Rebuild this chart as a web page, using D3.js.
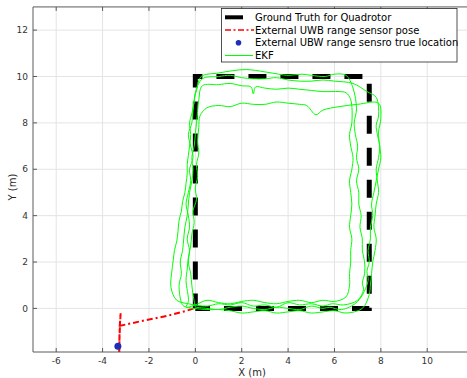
<!DOCTYPE html>
<html><head><meta charset="utf-8">
<script src="https://cdn.jsdelivr.net/npm/d3@7"></script>
<style>body{margin:0;background:#fff;} svg{display:block;font-family:"DejaVu Sans",sans-serif;}</style>
</head><body>
<script>
const xTicks = [-6,-4,-2,0,2,4,6,8,10];
const yTicks = [0,2,4,6,8,10,12];
const xDomain = [-7, 12];
const yDomain = [-1.88, 13];

const truthX = [0, 0, 7.5, 7.5, 0];
const truthY = [0, 10, 10, 0, 0];

const uwbTrueX = [-3.34];
const uwbTrueY = [-1.63];

const uwbPath = [[-3.28,-2.0],[-3.27,-1.2],[-3.26,-0.75],[-3.22,-0.2],[-3.25,-0.7],[-3.29,-2.0],[-3.27,-1.1],[-3.25,-0.75],[-2.2,-0.52],[-1.2,-0.32],[-0.45,-0.12],[-0.05,0.0]];

const ekfLapA = [[0.0,0.05],[-0.1,0.6],[-0.15,1.0],[-0.2,1.5],[-0.3,2.0],[-0.25,2.5],[-0.35,3.0],[-0.25,3.5],[-0.3,4.0],[-0.4,4.5],[-0.3,5.0],[-0.2,5.5],[-0.25,6.0],[-0.1,6.5],[-0.2,7.0],[-0.3,7.5],[-0.15,8.0],[-0.1,8.5],[-0.05,9.0],[0.05,9.4],[0.25,10.0],[1.0,10.15],[1.6,10.25],[2.2,10.3],[3.0,10.2],[3.6,10.1],[4.0,10.05],[4.6,10.1],[5.0,10.05],[5.6,10.0],[6.0,10.1],[6.5,10.05],[6.8,9.5],[6.95,8.6],[6.85,8.0],[6.9,7.5],[7.0,7.0],[6.95,6.5],[7.05,6.0],[6.95,5.5],[7.05,5.0],[7.05,4.5],[7.15,4.0],[7.1,3.5],[7.2,3.0],[7.2,2.5],[7.3,2.0],[7.3,1.5],[7.2,1.1],[7.25,0.8],[7.0,0.35],[6.4,0.15],[5.9,0.2],[5.5,0.1],[5.0,0.2],[4.5,0.15],[4.0,0.25],[3.5,0.05],[3.0,0.15],[2.5,0.1],[2.0,0.25],[1.5,0.15],[1.0,0.2],[0.5,0.1],[-0.3,0.2]];
const ekfLapB = [[-0.8,0.35],[-1.05,0.9],[-1.0,1.7],[-0.95,2.1],[-0.9,2.5],[-0.8,2.9],[-0.75,3.3],[-0.7,3.8],[-0.6,4.2],[-0.55,4.6],[-0.45,5.0],[-0.4,5.4],[-0.35,5.8],[-0.35,6.2],[-0.3,6.6],[-0.25,7.0],[-0.2,7.5],[-0.25,8.0],[-0.15,8.4],[-0.05,8.9],[0.0,9.3],[0.3,9.9],[1.0,10.0],[1.5,10.05],[2.0,9.95],[2.5,9.9],[3.0,9.9],[3.5,9.95],[4.0,9.85],[4.5,9.8],[5.0,9.8],[5.5,9.85],[6.0,9.8],[6.8,9.7],[7.4,9.35],[7.8,9.1],[7.9,8.3],[7.8,7.9],[7.85,7.5],[7.95,7.0],[7.9,6.5],[7.8,6.0],[7.85,5.5],[7.9,5.0],[7.8,4.5],[7.75,4.0],[7.7,3.5],[7.8,3.0],[7.75,2.5],[7.65,2.0],[7.6,1.5],[7.55,1.0],[7.5,0.6],[7.2,0.0],[6.5,-0.2],[6.0,-0.1],[5.5,-0.15],[5.0,-0.2],[4.5,-0.1],[4.0,-0.15],[3.5,-0.2],[3.0,-0.1],[2.5,-0.15],[2.0,-0.2],[1.5,-0.1],[1.0,-0.05],[0.5,-0.05],[-0.5,0.1]];
const ekfLapC = [[-0.6,0.25],[-0.7,1.0],[-0.6,1.5],[-0.65,2.0],[-0.55,2.5],[-0.5,3.0],[-0.45,3.5],[-0.35,4.0],[-0.3,4.5],[-0.25,5.0],[-0.15,5.5],[-0.1,6.0],[-0.15,6.5],[-0.05,7.0],[0.0,7.5],[0.05,8.0],[0.1,8.5],[0.15,9.0],[0.3,9.6],[1.0,9.65],[1.5,9.7],[2.0,9.6],[2.4,9.55],[2.5,9.25],[2.6,9.55],[3.0,9.5],[3.5,9.45],[4.0,9.5],[4.5,9.45],[5.0,9.4],[5.5,9.35],[6.2,9.35],[6.5,9.3],[6.7,9.0],[6.75,8.0],[6.65,7.5],[6.7,7.0],[6.8,6.5],[6.75,6.0],[6.65,5.5],[6.7,5.0],[6.75,4.5],[6.7,4.0],[6.65,3.5],[6.75,3.0],[6.7,2.5],[6.7,2.0],[6.65,1.5],[6.65,1.0],[6.5,0.5],[6.0,0.3],[5.5,0.35],[5.0,0.25],[4.5,0.35],[4.0,0.3],[3.5,0.2],[3.0,0.25],[2.5,0.35],[2.0,0.3],[1.5,0.2],[1.0,0.25],[0.5,0.35],[0.0,0.15],[-0.4,0.05]];
const ekfLapD = [[-0.3,0.3],[-0.4,1.2],[-0.35,1.7],[-0.3,2.2],[-0.2,2.7],[-0.15,3.2],[-0.05,3.7],[-0.1,4.2],[0.05,4.7],[0.0,5.2],[0.1,5.7],[0.05,6.2],[0.15,6.7],[0.1,7.2],[0.15,7.8],[0.2,8.3],[0.5,8.65],[1.0,8.75],[1.5,8.7],[2.0,8.85],[2.5,8.8],[3.0,8.8],[3.5,8.9],[4.0,8.85],[4.5,8.8],[4.8,8.75],[5.2,8.35],[5.5,8.55],[6.2,8.7],[7.0,8.8],[7.9,8.85],[8.0,8.2],[7.9,7.6],[7.95,7.0],[8.0,6.5],[7.9,6.0],[7.8,5.5],[7.7,5.0],[7.6,4.5],[7.65,4.0],[7.55,3.5],[7.55,3.0],[7.45,2.5],[7.5,2.0],[7.4,1.6],[7.45,1.2],[7.0,0.3],[6.3,-0.05],[5.8,0.05],[5.5,0.0],[5.0,0.1],[4.5,-0.05],[4.0,0.0],[3.5,0.05],[3.0,-0.05],[2.5,0.0],[2.0,0.1],[1.5,0.05],[1.0,-0.05],[0.5,0.0],[0.0,0.05]];

const legendLabels = ["Ground Truth for Quadrotor","External UWB range sensor pose","External UBW range sensro true location","EKF"];

const W = 467, H = 378;
const left = 33, bottom = 352, unit = 23.19;
const x = d3.scaleLinear().domain(xDomain).range([left, left + (xDomain[1]-xDomain[0])*unit]);
const y = d3.scaleLinear().domain(yDomain).range([bottom, bottom - (yDomain[1]-yDomain[0])*unit]);
const topY = y(yDomain[1]), rightX = x(xDomain[1]);

const svg = d3.select("body").append("svg").attr("width", W).attr("height", H);
svg.append("defs").append("clipPath").attr("id","clip").append("rect")
  .attr("x", left).attr("y", topY).attr("width", rightX-left).attr("height", bottom-topY);

// grid
const g = svg.append("g");
g.selectAll(".gx").data(xTicks).join("line").attr("x1", d=>x(d)).attr("x2", d=>x(d)).attr("y1", topY).attr("y2", bottom).attr("stroke","#e4e4e4").attr("stroke-width",1);
g.selectAll(".gy").data(yTicks).join("line").attr("y1", d=>y(d)).attr("y2", d=>y(d)).attr("x1", left).attr("x2", rightX).attr("stroke","#e4e4e4").attr("stroke-width",1);

const plot = svg.append("g").attr("clip-path","url(#clip)");
const line = d3.line().x(d=>x(d[0])).y(d=>y(d[1]));

// ground truth
plot.append("path").attr("d", line(truthX.map((v,i)=>[v,truthY[i]])))
  .attr("fill","none").attr("stroke","#000").attr("stroke-width",5)
  .attr("stroke-dasharray","18,14").attr("stroke-dashoffset",3);

// uwb pose
plot.append("path").attr("d", line(uwbPath)).attr("fill","none").attr("stroke","#ff0000")
  .attr("stroke-width",2).attr("stroke-dasharray","6,3,2,3");

// true location
plot.selectAll(".dot").data(uwbTrueX).join("circle").attr("cx", d=>x(d)).attr("cy",(d,i)=>y(uwbTrueY[i])).attr("r",3.5).attr("fill","#1f2db8");

// EKF
const curve = d3.line().x(d=>x(d[0])).y(d=>y(d[1])).curve(d3.curveCatmullRom.alpha(0.5));
plot.append("path").attr("d", curve(ekfLapA.concat(ekfLapB, ekfLapC, ekfLapD)))
  .attr("fill","none").attr("stroke","#00ff00").attr("stroke-width",1);

// axes box
const axc = "#5a5a5a";
svg.append("line").attr("x1",left).attr("x2",rightX).attr("y1",bottom).attr("y2",bottom).attr("stroke",axc);
svg.append("line").attr("x1",left).attr("x2",rightX).attr("y1",topY).attr("y2",topY).attr("stroke",axc);
svg.append("line").attr("x1",left).attr("x2",left).attr("y1",topY).attr("y2",bottom).attr("stroke",axc);
// ticks
svg.selectAll(".tx").data(xTicks).join("line").attr("x1",d=>x(d)).attr("x2",d=>x(d)).attr("y1",bottom).attr("y2",bottom-4).attr("stroke",axc);
svg.selectAll(".tx2").data(xTicks).join("line").attr("x1",d=>x(d)).attr("x2",d=>x(d)).attr("y1",topY).attr("y2",topY+4).attr("stroke",axc);
svg.selectAll(".ty").data(yTicks).join("line").attr("y1",d=>y(d)).attr("y2",d=>y(d)).attr("x1",left).attr("x2",left+4).attr("stroke",axc);

svg.selectAll(".xl").data(xTicks).join("text").attr("x",d=>x(d)).attr("y",bottom+11.5).attr("text-anchor","middle")
  .attr("font-size",9).attr("fill","#333").text(d=>d);
svg.selectAll(".yl").data(yTicks).join("text").attr("x",left-5).attr("y",d=>y(d)+3.2).attr("text-anchor","end")
  .attr("font-size",9).attr("fill","#333").text(d=>d);

svg.append("text").attr("x",252).attr("y",375.5).attr("text-anchor","middle").attr("font-size",10).attr("fill","#262626").text("X (m)");
svg.append("text").attr("transform","translate(15.5,187) rotate(-90)").attr("text-anchor","middle").attr("font-size",10).attr("fill","#262626").text("Y (m)");

// legend
const lg = svg.append("g");
lg.append("rect").attr("x",221.5).attr("y",8.5).attr("width",235.5).attr("height",53.5).attr("fill","#fff").attr("stroke","#262626").attr("stroke-width",0.8);
const rows = [17.3, 30, 42.7, 55.5];
lg.append("line").attr("x1",225).attr("x2",253).attr("y1",rows[0]).attr("y2",rows[0]).attr("stroke","#000").attr("stroke-width",4).attr("stroke-dasharray","18,15");
lg.append("line").attr("x1",225).attr("x2",254).attr("y1",rows[1]).attr("y2",rows[1]).attr("stroke","#ff0000").attr("stroke-width",1.6).attr("stroke-dasharray","6,2.5,2,2.5");
lg.append("circle").attr("cx",238.5).attr("cy",rows[2]).attr("r",2.8).attr("fill","#1f2db8");
lg.append("line").attr("x1",225).attr("x2",253).attr("y1",rows[3]).attr("y2",rows[3]).attr("stroke","#00ff00").attr("stroke-width",1);
lg.selectAll(".lt").data(legendLabels).join("text").attr("x",255).attr("y",(d,i)=>rows[i]+3.6)
  .attr("font-size",10).attr("fill","#000").text(d=>d);
</script>
</body></html>
